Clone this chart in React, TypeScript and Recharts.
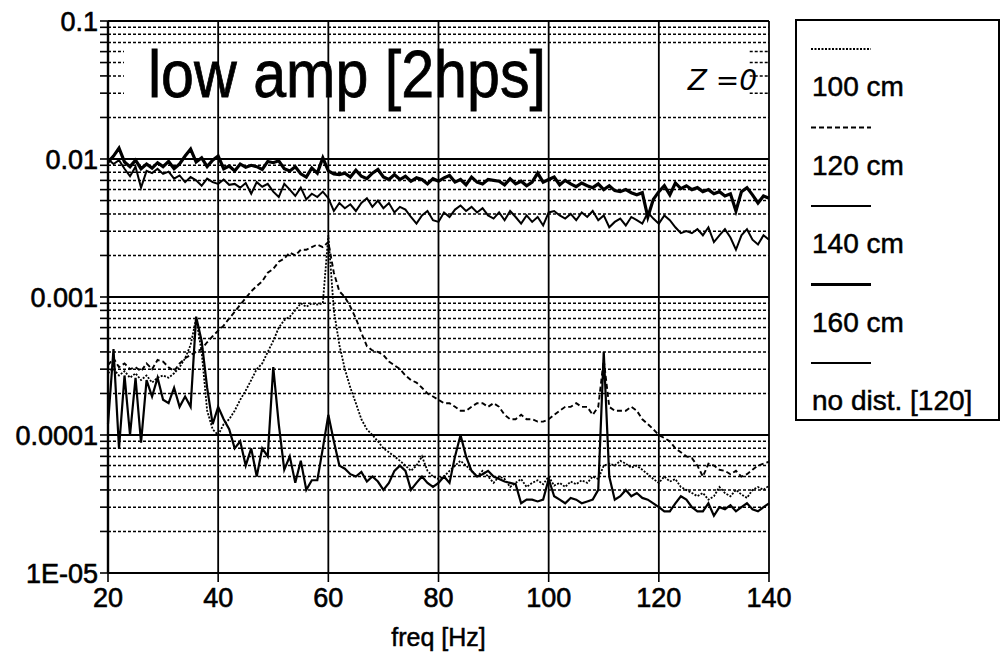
import React from "react";
import {
  LineChart,
  Line,
  XAxis,
  YAxis,
  CartesianGrid,
  ReferenceLine,
  ReferenceArea,
  Legend,
} from "recharts";

// frequency axis, 1 Hz steps from 20 to 140
const FREQ = Array.from({ length: 121 }, (_, i) => 20 + i);

const S100 = [
  0.00028, 0.0003, 0.00027, 0.00029, 0.00026, 0.00028, 0.00025, 0.00027, 0.00024, 0.00026,
  0.00027, 0.00026, 0.00028, 0.00031, 0.00036, 0.00045, 0.0007, 0.0004, 0.00015, 0.00011,
  0.0001, 0.00012, 0.00013, 0.00015, 0.00018, 0.00021, 0.00025, 0.0003, 0.00033, 0.0004,
  0.00048, 0.0006, 0.00068, 0.00072, 0.0008, 0.0009, 0.00085, 0.0009, 0.00088, 0.0009,
  0.0028, 0.0008, 0.00045, 0.0003, 0.00022, 0.00017, 0.00013, 0.00011, 0.0001, 0.00009,
  0.00008, 0.000075, 0.00007, 0.000065, 0.00006, 0.000055, 0.00006, 0.00007, 0.000055, 0.00005,
  0.000048, 0.00005, 0.000055, 0.00006, 0.000065, 0.00006, 0.000055, 0.00005, 0.000055, 0.00005,
  0.000045, 0.00005, 0.000048, 0.000042, 0.000045, 0.000048, 0.000042, 0.000045, 0.000047, 0.000044,
  0.00005, 0.000043, 0.000045, 0.000042, 0.000046, 0.000044, 0.000047, 0.000045, 0.00005, 0.000048,
  0.00006, 0.000062, 0.00006, 0.000065, 0.000062, 0.000058, 0.00006, 0.000056, 0.000052, 0.000048,
  0.000045, 0.00005, 0.000046, 0.000048, 0.000042, 0.00004, 0.000038, 0.000036, 0.000038, 0.000034,
  0.000036, 0.000042, 0.000038, 0.000036, 0.00004, 0.000037, 0.000035, 0.00004, 0.000042, 0.00004,
  0.000043,
];

const S120 = [
  0.00032, 0.00036, 0.00031, 0.00033, 0.0003, 0.00031, 0.00029, 0.00033, 0.0003, 0.00035,
  0.00034, 0.00031, 0.00029, 0.00033, 0.00036, 0.00038, 0.0004, 0.00042, 0.00047, 0.00052,
  0.00057, 0.00062, 0.0007, 0.00078, 0.00088, 0.00098, 0.0011, 0.0012, 0.0013, 0.0015,
  0.0016, 0.0018, 0.0019, 0.0021, 0.002, 0.0022, 0.0022, 0.0023, 0.0024, 0.0023,
  0.0025, 0.0015, 0.0011, 0.001, 0.00085, 0.0007, 0.00055, 0.00044, 0.00041, 0.0004,
  0.00038, 0.00034, 0.00032, 0.0003, 0.00027, 0.00025, 0.00024, 0.00022, 0.0002, 0.00019,
  0.00018, 0.00017, 0.00017, 0.00016, 0.00015, 0.00015, 0.00016, 0.00017, 0.00017, 0.00016,
  0.00017, 0.00016, 0.00014, 0.00013, 0.00013, 0.00014, 0.00013, 0.00013, 0.000125, 0.000125,
  0.00013, 0.00014, 0.00015, 0.00016, 0.00016, 0.00017, 0.00016, 0.00016, 0.00014, 0.00016,
  0.00035, 0.00016, 0.00015, 0.00015, 0.00015, 0.00016, 0.00015, 0.00013, 0.00012, 0.00011,
  0.0001, 0.000095, 0.00009, 0.00008, 0.000075, 0.00007, 0.000068, 0.00006, 0.00005, 0.000062,
  0.00006, 0.000056, 0.000055, 0.000052, 0.000055, 0.00005, 0.000052, 0.000056, 0.00006, 0.000062,
  0.000064,
];

const S140 = [
  0.01, 0.0092, 0.0098, 0.0085, 0.0075, 0.0088, 0.0062, 0.0082, 0.0079, 0.0085,
  0.0078, 0.0081, 0.0072, 0.0076, 0.0068, 0.0074, 0.007, 0.0064, 0.0072, 0.0068,
  0.0066, 0.0071, 0.0065, 0.0066, 0.0062, 0.0067, 0.0056, 0.0068, 0.0063, 0.0066,
  0.0058, 0.0053, 0.0066, 0.006, 0.0054, 0.0062, 0.0051, 0.0056, 0.0053, 0.0058,
  0.0052, 0.0042, 0.0048, 0.0044, 0.0047, 0.0042, 0.0048, 0.0052, 0.0045, 0.005,
  0.0044, 0.0048, 0.0041, 0.0045, 0.0043, 0.0038, 0.0034, 0.0039, 0.0042, 0.0036,
  0.0035, 0.0041, 0.0038, 0.0043, 0.0046, 0.0042, 0.0045, 0.0041, 0.0044, 0.0039,
  0.0037, 0.0041, 0.0036, 0.0042, 0.0038, 0.0034, 0.0039, 0.0035, 0.0038, 0.0033,
  0.0041, 0.0042, 0.0039, 0.0037, 0.004, 0.0036, 0.0041, 0.0038, 0.0042, 0.0036,
  0.0039, 0.0032, 0.0035, 0.0037, 0.0033, 0.0038, 0.0036, 0.0034, 0.0041, 0.0037,
  0.0034, 0.0039, 0.0036, 0.0032, 0.0029, 0.003, 0.0029, 0.0031, 0.0028, 0.0032,
  0.0025, 0.0028, 0.0031, 0.0027, 0.0022, 0.0028, 0.0031, 0.0026, 0.0024, 0.0028,
  0.0026,
];

const S160 = [
  0.0095, 0.0105, 0.012, 0.0095, 0.0088, 0.0098, 0.0085, 0.0092, 0.0086, 0.0094,
  0.0088, 0.0096, 0.0085, 0.0092, 0.0105, 0.0118, 0.0095, 0.0102, 0.0088, 0.0098,
  0.0105, 0.0085, 0.0089, 0.0082, 0.0092, 0.0087, 0.009, 0.0088, 0.0084, 0.0096,
  0.0094, 0.0097, 0.0085, 0.0082, 0.0088, 0.0078, 0.0074, 0.0086, 0.0079, 0.0102,
  0.0082, 0.0078, 0.0077, 0.0079, 0.0074, 0.0083, 0.0075, 0.0072, 0.0079, 0.0084,
  0.0074, 0.0071, 0.0077, 0.0071, 0.0075, 0.0069, 0.0073, 0.0071, 0.0066, 0.0072,
  0.0069, 0.0073, 0.0076, 0.0068, 0.0071, 0.0065, 0.0074, 0.0068, 0.0066, 0.0071,
  0.007, 0.0069, 0.0065, 0.0072, 0.0066, 0.0069, 0.0064, 0.0068, 0.0079, 0.0068,
  0.0071, 0.0074, 0.0065, 0.007, 0.0066, 0.0063, 0.0067, 0.0064, 0.0062, 0.0066,
  0.006, 0.0064, 0.0059, 0.0058, 0.006, 0.0057, 0.0055, 0.0057, 0.0038, 0.0051,
  0.0058, 0.0064, 0.0055, 0.0067, 0.0061, 0.0064, 0.006, 0.0062, 0.0058, 0.006,
  0.0056, 0.0058, 0.0054, 0.0056, 0.0042, 0.0058, 0.0062, 0.0055, 0.0048, 0.0054,
  0.0052,
];

const NO_DIST = [
  0.00012, 0.00042, 0.00008, 0.00027, 0.0001, 0.00026, 0.000088, 0.00025, 0.00019, 0.00026,
  0.00018, 0.00017, 0.00022, 0.00016, 0.00019, 0.00016, 0.00072, 0.00048, 0.00022, 0.00012,
  0.00016, 0.00013, 0.00011, 0.00008, 0.00009, 0.00006, 0.00008, 0.00005, 0.00008, 0.00007,
  0.00031, 0.00012, 0.000056, 0.00007, 0.000045, 0.000065, 0.00004, 0.000047, 0.000047, 0.00008,
  0.00014, 0.00009, 0.00006, 0.000057, 0.000052, 0.00005, 0.000054, 0.000046, 0.00005, 0.000046,
  0.00004, 0.000045, 0.000055, 0.00006, 0.000055, 0.00004, 0.000045, 0.00005, 0.000045, 0.000042,
  0.000045, 0.00005, 0.000045, 0.00007, 0.0001, 0.00007, 0.000055, 0.00005, 0.000052, 0.000055,
  0.00005, 0.000048, 0.000046, 0.000045, 0.000044, 0.000032, 0.000034, 0.000034, 0.000033, 0.000034,
  0.000048, 0.000036, 0.000034, 0.000032, 0.000035, 0.000034, 0.000032, 0.000033, 0.000034, 0.00004,
  0.0004, 0.00005, 0.000034, 0.000036, 0.00004, 0.000036, 0.000038, 0.000035, 0.000034, 0.000032,
  0.00003, 0.000028, 0.000028, 0.000032, 0.000036, 0.000034, 0.00003, 0.000028, 0.000028, 0.000032,
  0.000026, 0.00003, 0.000029, 0.000031, 0.000028, 0.00003, 0.000032, 0.000029, 0.000028, 0.00003,
  0.000032,
];

const X_TICKS = [20, 40, 60, 80, 100, 120, 140];
const Y_MAJOR = [0.00001, 0.0001, 0.001, 0.01, 0.1];
const Y_MAJOR_LABELS = ["1E-05", "0.0001", "0.001", "0.01", "0.1"];
const Y_MINOR = [
  0.00002, 0.00003, 0.00004, 0.00005, 0.00006, 0.00007, 0.00008, 0.00009,
  0.0002, 0.0003, 0.0004, 0.0005, 0.0006, 0.0007, 0.0008, 0.0009,
  0.002, 0.003, 0.004, 0.005, 0.006, 0.007, 0.008, 0.009,
  0.02, 0.03, 0.04, 0.05, 0.06, 0.07, 0.08, 0.09,
];
// minor grid lines hidden behind the title box
const Y_UNDER_TITLE = [0.03, 0.04, 0.05, 0.06];
const TITLE_BOX = { x1: 22.9, x2: 136.5, y1: 0.0245, y2: 0.068 };

const LEGEND_NAMES = ["100 cm", "120 cm", "140 cm", "160 cm", "no dist. [120]"];

const data = FREQ.map((f, i) => ({
  f,
  s100: S100[i],
  s120: S120[i],
  s140: S140[i],
  s160: S160[i],
  nodist: NO_DIST[i],
}));

const FONT = "'Liberation Sans', Arial, Helvetica, sans-serif";
const TXT = { fill: "#000", fontFamily: FONT, stroke: "#000", strokeWidth: 0.6 };

const STYLE: Record<string, { width: number; dash?: string }> = {
  "100 cm": { width: 1.8, dash: "2 1.5" },
  "120 cm": { width: 1.9, dash: "5 3" },
  "140 cm": { width: 2 },
  "160 cm": { width: 3.2 },
  "no dist. [120]": { width: 2.2 },
};

const yLabel = (v: number) => {
  const i = Y_MAJOR.indexOf(v);
  return i >= 0 ? Y_MAJOR_LABELS[i] : "";
};

const TitleLabel = ({ viewBox }: any) => {
  if (!viewBox) return null;
  const { x, y, width } = viewBox;
  return (
    <g>
      <text
        x={x + 24}
        y={y + 53}
        fontFamily={FONT}
        fontSize={67}
        textLength={398}
        lengthAdjust="spacingAndGlyphs"
        fill="#000"
        stroke="#000"
        strokeWidth={0.8}
      >
        low amp [2hps]
      </text>
      <text
        x={x + width - 62}
        y={y + 46}
        fontFamily="'DejaVu Sans', sans-serif"
        fontStyle="italic"
        fontSize={28}
        fill="#000"
      >
        Z =0
      </text>
    </g>
  );
};

const LegendBox = () => (
  <div
    style={{
      width: 205,
      height: 402,
      border: "2px solid #000",
      boxSizing: "border-box",
      background: "#fff",
    }}
  >
    <svg width={201} height={398}>
      {LEGEND_NAMES.map((name, i) => {
        const st = STYLE[name];
        const top = 28 + i * 78.5;
        return (
          <g key={name}>
            <line
              x1={14}
              x2={74}
              y1={top}
              y2={top}
              stroke="#000"
              strokeWidth={st.width}
              strokeDasharray={st.dash}
            />
            <text x={15} y={top + 47} fontSize={28} {...TXT} strokeWidth={0.5}>
              {name}
            </text>
          </g>
        );
      })}
    </svg>
  </div>
);

export default function App() {
  return (
    <div
      style={{
        position: "absolute",
        left: 0,
        top: 0,
        width: 1003,
        height: 656,
        background: "#fff",
      }}
    >
      <LineChart
        width={1003}
        height={656}
        data={data}
        margin={{ top: 21, right: 234, bottom: 0, left: 8 }}
      >
        <CartesianGrid horizontal={false} stroke="#000" strokeWidth={1.8} />
        <XAxis
          dataKey="f"
          type="number"
          domain={[20, 140]}
          ticks={X_TICKS}
          height={83}
          tick={{ fontSize: 27, ...TXT }}
          tickSize={9}
          tickMargin={6}
          axisLine={{ stroke: "#000", strokeWidth: 2 }}
          tickLine={{ stroke: "#000", strokeWidth: 1.6 }}
          label={{
            value: "freq [Hz]",
            position: "insideBottom",
            offset: 10,
            fontSize: 25,
            ...TXT,
            strokeWidth: 0.5,
          }}
        />
        <YAxis
          type="number"
          scale="log"
          domain={[0.00001, 0.1]}
          allowDataOverflow
          ticks={[...Y_MAJOR, ...Y_MINOR].sort((a, b) => a - b)}
          tickFormatter={yLabel}
          width={100}
          interval={0}
          tick={{ fontSize: 27, ...TXT }}
          tickSize={8}
          tickMargin={2}
          axisLine={{ stroke: "#000", strokeWidth: 2.4 }}
          tickLine={{ stroke: "#000", strokeWidth: 1.6 }}
        />
        {Y_MAJOR.map((v) => (
          <ReferenceLine key={"M" + v} y={v} stroke="#000" strokeWidth={1.8} />
        ))}
        {Y_MINOR.filter((v) => Y_UNDER_TITLE.indexOf(v) < 0).map((v) => (
          <ReferenceLine
            key={"m" + v}
            y={v}
            stroke="#000"
            strokeWidth={1.5}
            strokeDasharray="3 2"
          />
        ))}
        {Y_UNDER_TITLE.map((v) => (
          <ReferenceLine
            key={"l" + v}
            segment={[
              { x: 20, y: v },
              { x: TITLE_BOX.x1, y: v },
            ]}
            stroke="#000"
            strokeWidth={1.5}
            strokeDasharray="3 2"
          />
        ))}
        {Y_UNDER_TITLE.map((v) => (
          <ReferenceLine
            key={"r" + v}
            segment={[
              { x: TITLE_BOX.x2, y: v },
              { x: 140, y: v },
            ]}
            stroke="#000"
            strokeWidth={1.5}
            strokeDasharray="3 2"
          />
        ))}
        <ReferenceArea
          x1={TITLE_BOX.x1}
          x2={TITLE_BOX.x2}
          y1={TITLE_BOX.y1}
          y2={TITLE_BOX.y2}
          fill="#fff"
          fillOpacity={0}
          stroke="none"
          label={<TitleLabel />}
        />
        <Line dataKey="s100" name="100 cm" type="linear" dot={false} stroke="#000"
          strokeWidth={STYLE["100 cm"].width} strokeDasharray={STYLE["100 cm"].dash} isAnimationActive={false} />
        <Line dataKey="s120" name="120 cm" type="linear" dot={false} stroke="#000"
          strokeWidth={STYLE["120 cm"].width} strokeDasharray={STYLE["120 cm"].dash} isAnimationActive={false} />
        <Line dataKey="s140" name="140 cm" type="linear" dot={false} stroke="#000"
          strokeWidth={STYLE["140 cm"].width} isAnimationActive={false} />
        <Line dataKey="s160" name="160 cm" type="linear" dot={false} stroke="#000"
          strokeWidth={STYLE["160 cm"].width} isAnimationActive={false} />
        <Line dataKey="nodist" name="no dist. [120]" type="linear" dot={false} stroke="#000"
          strokeWidth={STYLE["no dist. [120]"].width} isAnimationActive={false} />
        <Legend
          layout="horizontal"
          verticalAlign="middle"
          align="center"
          content={<LegendBox />}
          wrapperStyle={{ position: "absolute", left: 795, top: 19, width: 205, height: 402 }}
        />
      </LineChart>
    </div>
  );
}
